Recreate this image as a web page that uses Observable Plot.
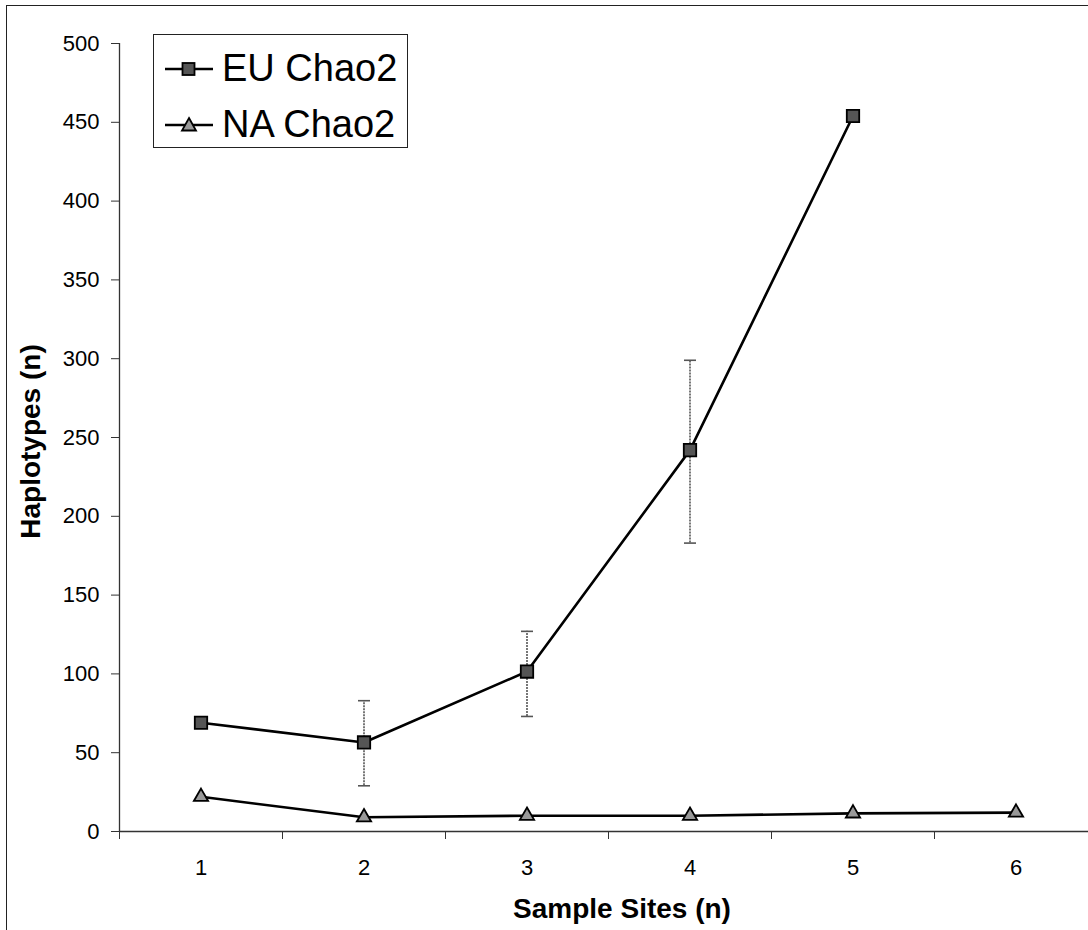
<!DOCTYPE html>
<html>
<head>
<meta charset="utf-8">
<script src="https://cdn.jsdelivr.net/npm/d3@7"></script>
<script src="https://cdn.jsdelivr.net/npm/@observablehq/plot@0.6"></script>
<style>
  html, body { margin: 0; padding: 0; background: #fff; overflow: hidden; }
  #wrap { position: relative; width: 1088px; height: 930px; overflow: hidden; font-family: "Liberation Sans", Arial, sans-serif; }
  #frame { position: absolute; left: 6px; top: 5px; width: 1200px; height: 1200px; border-left: 1.5px solid #222; border-top: 1.5px solid #222; pointer-events: none; }
  #legend { position: absolute; left: 153px; top: 34px; width: 255px; height: 114px; border: 1.5px solid #222; background: #fff; box-sizing: border-box; }
  .row { position: absolute; left: 0; display: flex; align-items: center; font-size: 38px; color: #000; white-space: nowrap; }
  .row svg { margin-left: 11px; margin-right: 9px; }
</style>
</head>
<body>
<div id="wrap">
  <div id="chart"></div>
  <div id="frame"></div>
  <div id="legend"></div>
</div>
<script>
// ---- data ----
const sites = [1, 2, 3, 4, 5, 6];
const euChao2 = [69, 56.5, 101.5, 242, 454, null];
const naChao2 = [22, 9, 10, 10, 11.5, 12];
const euErrLow = [null, 29, 73, 183, null, null];
const euErrHigh = [null, 83, 127, 299, null, null];
const yTicks = [0, 50, 100, 150, 200, 250, 300, 350, 400, 450, 500];
const xBoundaries = [0.5, 1.5, 2.5, 3.5, 4.5, 5.5, 6.5];
const seriesNames = ["EU Chao2", "NA Chao2"];

const eu = sites.map((s, i) => ({site: s, value: euChao2[i], lo: euErrLow[i], hi: euErrHigh[i]})).filter(d => d.value != null);
const na = sites.map((s, i) => ({site: s, value: naChao2[i]}));
const errs = eu.filter(d => d.lo != null);

const capSymbol = {
  draw(context, size) {
    const w = 6;
    context.moveTo(-w, 0);
    context.lineTo(w, 0);
  }
};

const fontFamily = '"Liberation Sans", Arial, sans-serif';

const chart = Plot.plot({
  width: 1088,
  height: 930,
  marginLeft: 119,
  marginTop: 43,
  marginBottom: 99,
  marginRight: 0,
  style: {fontFamily, background: "transparent", color: "#000", overflow: "visible"},
  x: {domain: [0.5, 6.5], range: [119, 1097]},
  y: {domain: [0, 500], range: [831, 43]},
  marks: [
    // axes
    Plot.ruleX([0.5], {y1: 0, y2: 500, stroke: "#333", strokeWidth: 1.3}),
    Plot.ruleY([0], {stroke: "#333", strokeWidth: 1.3}),
    Plot.axisY({ticks: yTicks, tickSize: 8, tickPadding: 12, fontSize: 22, stroke: "#333", label: null}),
    Plot.axisX({ticks: xBoundaries, tickSize: 8, tickFormat: () => "", stroke: "#333", label: null}),
    Plot.axisX({ticks: sites, tickSize: 0, tickPadding: 28, fontSize: 22, label: null, tickFormat: d => String(d)}),
    // axis titles
    Plot.text(["Haplotypes (n)"], {frameAnchor: "left", textAnchor: "middle", lineAnchor: "middle", rotate: -90, dx: -88, dy: 4, fontSize: 28, fontWeight: "bold", fill: "#000"}),
    Plot.text(["Sample Sites (n)"], {frameAnchor: "bottom", textAnchor: "middle", lineAnchor: "middle", dx: 18, dy: 78, fontSize: 28, fontWeight: "bold", fill: "#000"}),
    // error bars
    Plot.ruleX(errs, {x: "site", y1: "lo", y2: "hi", stroke: "#555", strokeWidth: 1.6, strokeDasharray: "2,1"}),
    Plot.dot(errs, {x: "site", y: "lo", symbol: capSymbol, stroke: "#555", strokeWidth: 1.6, fill: "none"}),
    Plot.dot(errs, {x: "site", y: "hi", symbol: capSymbol, stroke: "#555", strokeWidth: 1.6, fill: "none"}),
    // lines
    Plot.line(eu, {x: "site", y: "value", stroke: "#000", strokeWidth: 2.6}),
    Plot.line(na, {x: "site", y: "value", stroke: "#000", strokeWidth: 2.6}),
    // markers
    Plot.dot(eu, {x: "site", y: "value", symbol: "square", r: 7, fill: "#555", stroke: "#000", strokeWidth: 1.8}),
    Plot.dot(na, {x: "site", y: "value", symbol: "triangle", r: 5.3, fill: "#999", stroke: "#000", strokeWidth: 1.8})
  ]
});
document.getElementById("chart").appendChild(chart);

// legend (HTML overlay)
const legend = document.getElementById("legend");
const tops = [12, 68];
seriesNames.forEach((name, i) => {
  const row = document.createElement("div");
  row.className = "row";
  row.style.top = tops[i] + "px";
  const marker = i === 0
    ? '<rect x="17.5" y="7" width="12" height="12" fill="#555" stroke="#000" stroke-width="1.8"/>'
    : '<path d="M24,6 L31,18.5 L17,18.5 Z" fill="#999" stroke="#000" stroke-width="1.8"/>';
  row.innerHTML = `<svg width="48" height="26" viewBox="0 0 48 26"><line x1="0" y1="13" x2="48" y2="13" stroke="#000" stroke-width="2.4"/>${marker}</svg><span>${name}</span>`;
  legend.appendChild(row);
});
</script>
</body>
</html>
